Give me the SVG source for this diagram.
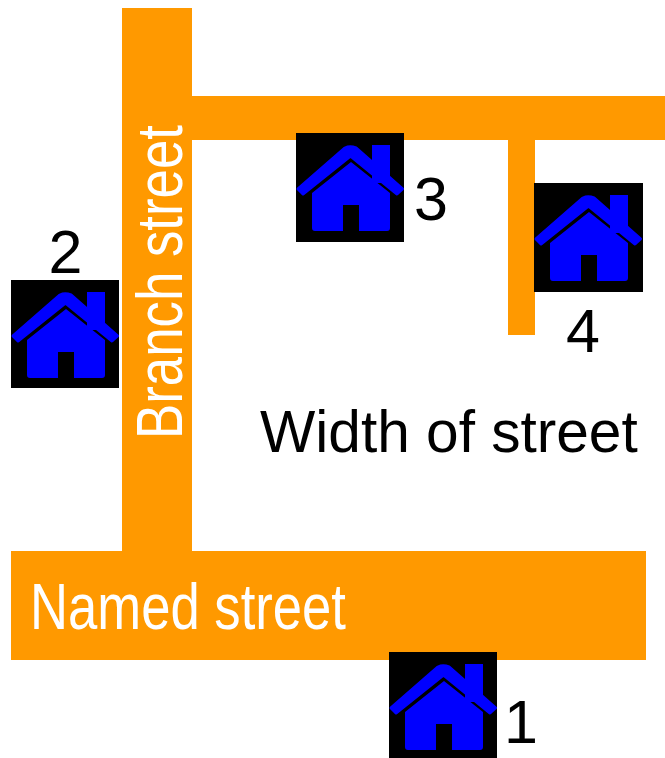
<svg xmlns="http://www.w3.org/2000/svg" xmlns:xlink="http://www.w3.org/1999/xlink" width="665" height="758" viewBox="0 0 665 758">
<style>
.street{fill:#ff9900}
.t{font-family:"Liberation Sans",Arial,sans-serif;font-size:61px;fill:#000}
.w{fill:#fff;font-size:64px}
.m{font-size:58.6px}
.bg{fill:#000}
.blue{fill:#0000ff}
.roof{fill:#0000ff;stroke:#0000ff;stroke-width:3;stroke-linejoin:round}
</style>
<defs>
<g id="house">
<path class="blue" d="M76 12H94V50H76Z"/>
<path class="roof" d="M2 56L49 15Q54 12.5 60 15L106.500 56L101 61L54.500 23L7 61Z"/>
<path class="blue" d="M16 60L55 29L94 60V95Q94 98 91 98H63V72H47V98H19Q16 98 16 95Z"/>
</g>
</defs>
<rect width="665" height="758" fill="#fff"/>
<g id="streets">
<rect class="street" x="122" y="8" width="70" height="560"/>
<rect class="street" x="192" y="96" width="473" height="44"/>
<rect class="street" x="508" y="140" width="27" height="195"/>
<rect class="street" x="11" y="551" width="635" height="109"/>
</g>
<g id="house1"><rect class="bg" x="389" y="652" width="108" height="106"/><use xlink:href="#house" x="389" y="652"/><text class="t" x="504" y="743">1</text></g>
<g id="house2"><rect class="bg" x="11" y="280" width="108" height="108"/><use xlink:href="#house" x="11" y="280"/><text class="t" x="48.500" y="273">2</text></g>
<g id="house3"><rect class="bg" x="296" y="133" width="108" height="109"/><use xlink:href="#house" x="296" y="133"/><text class="t" x="414" y="220">3</text></g>
<g id="house4"><rect class="bg" x="534" y="183" width="109" height="109"/><use xlink:href="#house" x="534" y="183"/><text class="t" x="566" y="352">4</text></g>
<text class="t w" x="30" y="629" textLength="316" lengthAdjust="spacingAndGlyphs">Named street</text>
<text class="t w" transform="translate(182 439) rotate(-90)" textLength="314" lengthAdjust="spacingAndGlyphs">Branch street</text>
<text class="t m" x="260" y="452">Width of street</text>
</svg>
